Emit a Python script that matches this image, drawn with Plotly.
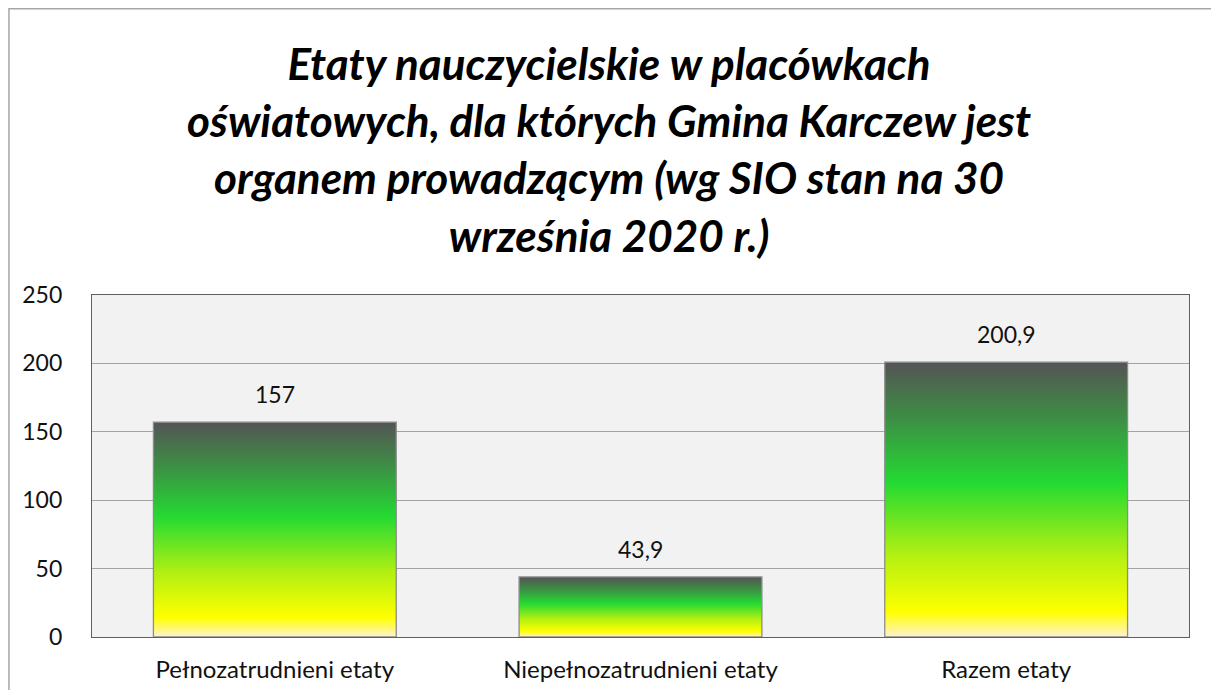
import plotly.graph_objects as go

categories = ["Pełnozatrudnieni etaty", "Niepełnozatrudnieni etaty", "Razem etaty"]
values = [157, 43.9, 200.9]
value_labels = ["157", "43,9", "200,9"]
y_ticks = [0, 50, 100, 150, 200, 250]

title_text = ("<b><i>Etaty nauczycielskie w placówkach<br>"
              "oświatowych, dla których Gmina Karczew jest<br>"
              "organem prowadzącym (wg SIO stan na 30<br>"
              "września 2020 r.)</i></b>")

gradient = [[0.0, "#fff2d2"], [0.09, "#ffff00"], [0.3, "#b2f012"],
            [0.56, "#24da32"], [0.8, "#3d8d45"], [1.0, "#545454"]]

half = 0.332
fig = go.Figure()
for i, v in enumerate(values):
    xs = [i - half, i + half, i + half, i - half, i - half]
    ys = [0, 0, v, v, 0]
    fig.add_trace(go.Scatter(
        x=xs, y=ys, mode="lines", fill="toself",
        fillgradient=dict(type="vertical", colorscale=gradient),
        line=dict(color="#8c8c8c", width=1.3),
        hoverinfo="skip", showlegend=False))

for i, (v, t) in enumerate(zip(values, value_labels)):
    fig.add_annotation(x=i, y=v, text=t, showarrow=False, yanchor="bottom",
                       yshift=12, font=dict(size=23, color="#111111"))

fig.add_annotation(xref="paper", yref="paper", x=0.4717, y=1.76,
                   xanchor="center", yanchor="top", showarrow=False,
                   text=title_text, align="center",
                   font=dict(size=44, color="#000000", family="Lato, sans-serif"))

fig.add_shape(type="rect", xref="paper", yref="paper",
              x0=-0.0757, x1=1.0264, y0=-0.3, y1=1.837,
              line=dict(color="#a6a6a6", width=1.5), layer="below")

fig.update_layout(
    width=1211, height=682,
    margin=dict(l=84, r=30, t=287, b=53, autoexpand=False),
    paper_bgcolor="white", plot_bgcolor="#f2f2f2",
    font=dict(family="Lato, 'Open Sans', sans-serif", color="#111111"),
    xaxis=dict(range=[-0.5, 2.5], tickvals=[0, 1, 2], ticktext=categories,
               showgrid=False, zeroline=False, showline=True, mirror=True,
               linecolor="#5f5f5f", linewidth=1.3, ticks="", automargin=False,
               tickfont=dict(size=24, color="#111111"), ticklabelstandoff=11),
    yaxis=dict(range=[0, 250], tickvals=y_ticks, showgrid=True,
               gridcolor="#a3a3a3", gridwidth=1.2, zeroline=False,
               showline=True, mirror=True, linecolor="#5f5f5f", linewidth=1.3,
               ticks="", tickfont=dict(size=23, color="#111111"),
               automargin=False, ticklabelstandoff=24),
)

fig.write_html("out.html")
